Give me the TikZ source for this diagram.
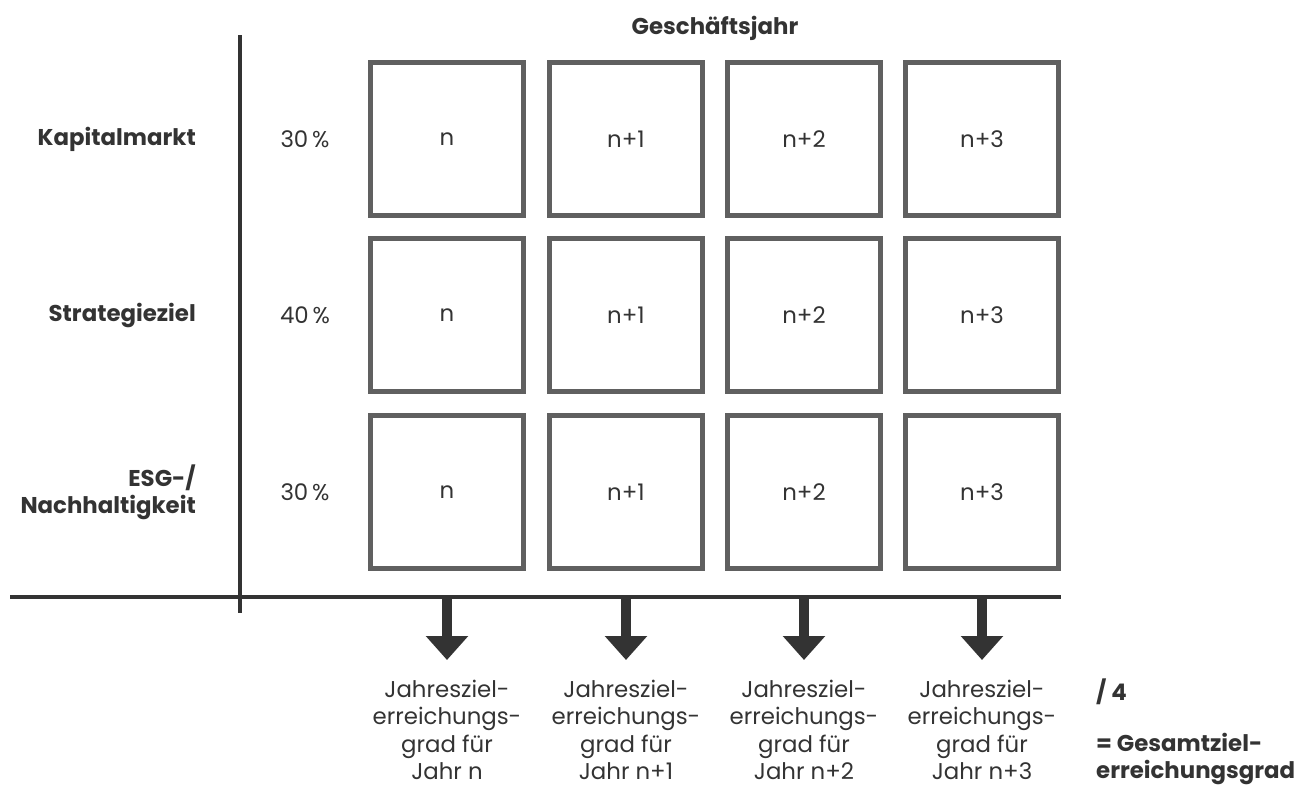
\documentclass[tikz,border=0pt]{standalone}
\usepackage{fontspec}
\setmainfont{Poppins}
\usetikzlibrary{arrows.meta}
\definecolor{BoxGray}{RGB}{96,96,96}
\definecolor{InkDark}{RGB}{51,51,51}

\begin{document}
\begin{tikzpicture}[x=0.02cm, y=-0.02cm, font=\fontsize{13}{15.5}\selectfont, every node/.style={align=center, text=InkDark}]
\tikzset{
  yearbox/.style={draw=BoxGray, line width=0.1cm, minimum width=3.07cm, minimum height=3.05cm, inner sep=0pt},
  boldtext/.style={font=\fontsize{13}{15.5}\selectfont\bfseries},
  rowlabel/.style={boldtext, anchor=east, align=right},
  axis/.style={InkDark, line width=0.09cm},
  arr/.style={-{Triangle[width=0.82cm, length=0.48cm]}, line width=0.2cm, InkDark},
  result/.style={anchor=north, inner sep=0pt}
}
  \useasboundingbox (0,0) rectangle (1302,789);
  \node[boldtext] (gj) at (715,28) {Geschäftsjahr};
  % row labels and weights
  \node[rowlabel] (kap) at (202,139) {Kapitalmarkt};
  \node[rowlabel] (str) at (202,315) {Strategieziel};
  \node[rowlabel] (esg) at (202,492) {ESG-/\\Nachhaltigkeit};
  \node (w1) at (305,139) {30\,\%};
  \node (w2) at (305,315) {40\,\%};
  \node (w3) at (305,492) {30\,\%};
  % year grid
  \node[yearbox] (k1) at (447,139) {n};
  \node[yearbox] (k2) at (626,139) {n+1};
  \node[yearbox] (k3) at (804,139) {n+2};
  \node[yearbox] (k4) at (982,139) {n+3};
  \node[yearbox] (s1) at (447,315) {n};
  \node[yearbox] (s2) at (626,315) {n+1};
  \node[yearbox] (s3) at (804,315) {n+2};
  \node[yearbox] (s4) at (982,315) {n+3};
  \node[yearbox] (e1) at (447,492) {n};
  \node[yearbox] (e2) at (626,492) {n+1};
  \node[yearbox] (e3) at (804,492) {n+2};
  \node[yearbox] (e4) at (982,492) {n+3};
  % axes
  \coordinate (vtop) at (240,35);
  \coordinate (vbot) at (240,613);
  \coordinate (hleft) at (10,597);
  \coordinate (hright) at (1061,597);
  \draw[axis] (vtop) -- (vbot);
  \draw[axis] (hleft) -- (hright);
  % yearly results
  \node[result] (j1) at (447,680) {Jahresziel-\\erreichungs-\\grad für\\Jahr n};
  \node[result] (j2) at (626,680) {Jahresziel-\\erreichungs-\\grad für\\Jahr n+1};
  \node[result] (j3) at (804,680) {Jahresziel-\\erreichungs-\\grad für\\Jahr n+2};
  \node[result] (j4) at (982,680) {Jahresziel-\\erreichungs-\\grad für\\Jahr n+3};
  \coordinate (t1) at (447,597);
  \coordinate (t2) at (626,597);
  \coordinate (t3) at (804,597);
  \coordinate (t4) at (982,597);
  \draw[arr] (t1) -- ([yshift=0.4cm]j1.north);
  \draw[arr] (t2) -- ([yshift=0.4cm]j2.north);
  \draw[arr] (t3) -- ([yshift=0.4cm]j3.north);
  \draw[arr] (t4) -- ([yshift=0.4cm]j4.north);
  \node[boldtext, anchor=west] (div) at (1090,692) {/ 4};
  \node[boldtext, anchor=west, align=left] (total) at (1090,759) {= Gesamtziel-\\erreichungsgrad};
\end{tikzpicture}
\end{document}
